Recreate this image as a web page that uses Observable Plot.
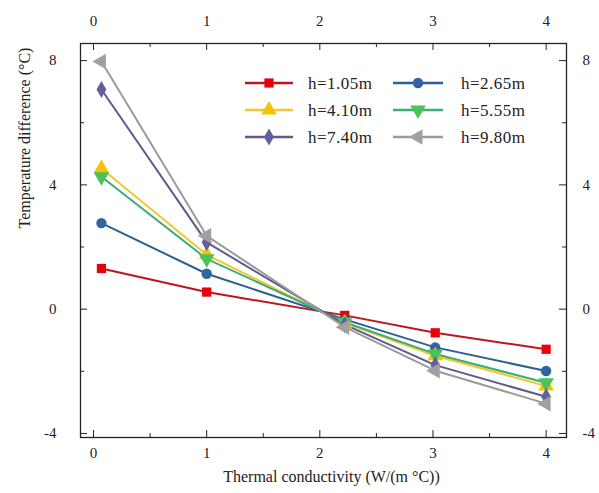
<!DOCTYPE html>
<html>
<head>
<meta charset="utf-8">
<script src="https://cdn.jsdelivr.net/npm/d3@7"></script>
<script src="https://cdn.jsdelivr.net/npm/@observablehq/plot@0.6"></script>
<style>
  html, body { margin: 0; padding: 0; background: #fff; }
  #wrap { position: relative; width: 599px; height: 493px; }
  #legend { position: absolute; left: 0; top: 0; pointer-events: none; }
</style>
</head>
<body>
<div id="wrap"></div>
<script>
// Data
const conductivity = [0.07, 1.0, 2.22, 3.02, 4.0];
const seriesNames = ["h=1.05m", "h=2.65m", "h=4.10m", "h=5.55m", "h=7.40m", "h=9.80m"];
const h105 = [1.31, 0.55, -0.20, -0.76, -1.29];
const h265 = [2.77, 1.14, -0.33, -1.23, -1.99];
const h410 = [4.53, 1.75, -0.45, -1.50, -2.47];
const h555 = [4.26, 1.62, -0.42, -1.44, -2.37];
const h740 = [7.07, 2.15, -0.50, -1.80, -2.82];
const h980 = [7.97, 2.36, -0.58, -1.98, -3.04];
const xTicks = [0, 1, 2, 3, 4];
const xMinor = [0.5, 1.5, 2.5, 3.5];
const yTicks = [-4, 0, 4, 8];
const yMinor = [-2, 2, 6];

const lineColors = ["#c0141c", "#2d5f8f", "#f0c830", "#3aae78", "#5d5b8e", "#9b9b9b"];
const markColors = ["#e8000b", "#2e66a0", "#f5c400", "#4cc25a", "#64609c", "#a0a0a0"];

const triDown = {draw(ctx, size) { const t = Math.sqrt(size / (Math.sqrt(3) * 3)); ctx.moveTo(0, 2 * t); ctx.lineTo(-Math.sqrt(3) * t, -t); ctx.lineTo(Math.sqrt(3) * t, -t); ctx.closePath(); }};
const triLeft = {draw(ctx, size) { const t = Math.sqrt(size / (Math.sqrt(3) * 3)); ctx.moveTo(-2 * t, 0); ctx.lineTo(t, -Math.sqrt(3) * t); ctx.lineTo(t, Math.sqrt(3) * t); ctx.closePath(); }};
const symbols = [d3.symbolSquare, d3.symbolCircle, d3.symbolTriangle, triDown, d3.symbolDiamond, triLeft];
const symbolNames = ["square", "circle", "triangle", triDown, "diamond", triLeft];
const radii = [5.2, 5.2, 5.8, 5.8, 5.2, 5.8];

const allValues = [h105, h265, h410, h555, h740, h980];
const data = allValues.map((vals, i) => conductivity.map((x, j) => ({series: seriesNames[i], x, y: vals[j]})));

const W = 599, H = 493;
const mL = 80, mR = 33, mT = 43, mB = 56;
const ph = H - mT - mB, pw = W - mL - mR;
const font = "'Liberation Serif', 'Times New Roman', serif";
const fmtY = d => d < 0 ? "-" + Math.abs(d) : String(d);
const fmtX = d => String(d);

const marks = [];
data.forEach((d, i) => {
  marks.push(Plot.line(d, {x: "x", y: "y", stroke: lineColors[i], strokeWidth: 2}));
});
data.forEach((d, i) => {
  marks.push(Plot.dot(d, {x: "x", y: "y", symbol: symbolNames[i], fill: markColors[i], stroke: "none", r: radii[i]}));
});

marks.push(
  // inward ticks, bottom & top
  Plot.tickX(xTicks, {x: d => d, insetTop: ph - 7, stroke: "#222"}),
  Plot.tickX(xTicks, {x: d => d, insetBottom: ph - 7, stroke: "#222"}),
  Plot.tickX(xMinor, {x: d => d, insetTop: ph - 4, stroke: "#222"}),
  Plot.tickX(xMinor, {x: d => d, insetBottom: ph - 4, stroke: "#222"}),
  // inward ticks, left & right
  Plot.tickY(yTicks, {y: d => d, insetRight: pw - 7, stroke: "#222"}),
  Plot.tickY(yTicks, {y: d => d, insetLeft: pw - 7, stroke: "#222"}),
  Plot.tickY(yMinor, {y: d => d, insetRight: pw - 4, stroke: "#222"}),
  Plot.tickY(yMinor, {y: d => d, insetLeft: pw - 4, stroke: "#222"}),
  Plot.frame({stroke: "#222", strokeWidth: 1.3}),
  Plot.axisX(xTicks, {anchor: "bottom", tickSize: 0, tickPadding: 10, label: null, fontSize: 15, fill: "#222", tickFormat: fmtX}),
  Plot.axisX(xTicks, {anchor: "top", tickSize: 0, tickPadding: 18, label: null, fontSize: 15, fill: "#222", tickFormat: fmtX}),
  Plot.axisY(yTicks, {anchor: "left", tickSize: 0, tickPadding: 24, label: null, fontSize: 15, fill: "#222", tickFormat: fmtY}),
  Plot.axisY(yTicks, {anchor: "right", tickSize: 0, tickPadding: 16, label: null, fontSize: 15, fill: "#222", tickFormat: fmtY}),
  Plot.text(["Thermal conductivity (W/(m \u00b0C))"], {text: d => d, frameAnchor: "bottom", dy: 44, dx: 8, fontSize: 16, fill: "#222"}),
  Plot.text(["Temperature difference (\u00b0C)"], {text: d => d, frameAnchor: "left", rotate: -90, dx: -56, dy: -12, fontSize: 16, fill: "#222"})
);

const chart = Plot.plot({
  width: W, height: H,
  marginLeft: mL, marginRight: mR, marginTop: mT, marginBottom: mB,
  x: {domain: [-0.115, 4.18], axis: null},
  y: {domain: [-4.13, 8.55], axis: null},
  style: {fontFamily: font, fontSize: "15px", background: "#fff", color: "#222"},
  marks
});
const wrap = document.getElementById("wrap");
wrap.appendChild(chart);

// Legend overlay
const leg = d3.select(wrap).append("svg").attr("id", "legend").attr("width", W).attr("height", H)
  .style("font-family", font);
const rows = [83, 110, 137];
const cols = [{x0: 245, x1: 293, tx: 308}, {x0: 393, x1: 443, tx: 461}];
seriesNames.forEach((name, i) => {
  const r = Math.floor(i / 2), c = i % 2;
  const y = rows[r], col = cols[c];
  const g = leg.append("g");
  g.append("line").attr("x1", col.x0).attr("x2", col.x1).attr("y1", y).attr("y2", y)
    .attr("stroke", lineColors[i]).attr("stroke-width", 2.5);
  g.append("path").attr("d", d3.symbol().type(symbols[i]).size(Math.PI * radii[i] * radii[i])())
    .attr("transform", `translate(${(col.x0 + col.x1) / 2},${y})`).attr("fill", markColors[i]);
  g.append("text").attr("x", col.tx).attr("y", y).attr("dy", "0.35em")
    .attr("font-size", 17).attr("fill", "#222").attr("letter-spacing", "0.5px").text(name);
});
</script>
</body>
</html>
